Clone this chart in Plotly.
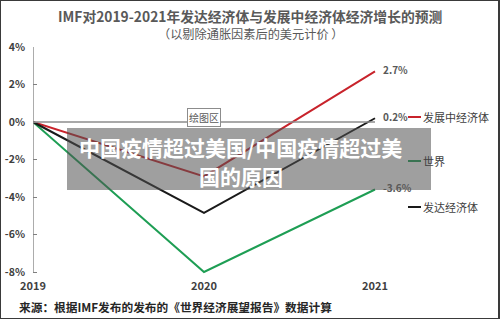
import plotly.graph_objects as go

years = [2019, 2020, 2021]
developing = [0, -2.9, 2.7]
world = [0, -8.0, -3.6]
developed = [0, -4.85, 0.2]
series_names = ["发展中经济体", "世界", "发达经济体"]
end_labels = ["2.7%", "-3.6%", "0.2%"]
y_ticks = [4, 2, 0, -2, -4, -6, -8]
y_ticktext = ["4%", "2%", "0%", "-2%", "-4%", "-6%", "-8%"]
x_ticktext = ["2019", "2020", "2021"]

W, H = 500, 319
FONT = "Noto Sans CJK SC"
colors = ["#C8232B", "#1E9E54", "#1A1A1A"]
series = [developing, world, developed]

fig = go.Figure()
for name, vals, col in zip(series_names, series, colors):
    fig.add_trace(go.Scatter(x=years, y=vals, mode="lines", name=name,
                             line=dict(color=col, width=2), showlegend=False))

def px_x(p):
    return p / W

def px_y(p):
    return 1 - p / H

# plot domain in pixels
x_left, x_right = 33, 475
y_top, y_bot = 47, 273.9
per_year = 171.0
x_end = years[0] + (x_right - x_left) / per_year

shapes = []
# y axis line
shapes.append(dict(type="line", xref="x", yref="y", x0=years[0], x1=years[0],
                   y0=min(y_ticks), y1=max(y_ticks), line=dict(color="#7F7F7F", width=1.3)))
# zero line
shapes.append(dict(type="line", xref="x", yref="y", x0=years[0], x1=years[-1],
                   y0=0, y1=0, line=dict(color="#8C8C8C", width=1.3)))

annotations = []
# end-of-line value labels
for vals, lab in zip(series, end_labels):
    annotations.append(dict(x=years[-1], y=vals[-1], xref="x", yref="y", text="<b>" + lab + "</b>",
                            showarrow=False, xanchor="left", xshift=6, yshift=2,
                            font=dict(family=FONT, size=10, color="#595959")))

# legend (custom)
legend_rows = [(series_names[0], colors[0], 117), (series_names[1], colors[1], 161), (series_names[2], colors[2], 207)]
for name, col, ypx in legend_rows:
    shapes.append(dict(type="line", xref="paper", yref="paper", x0=px_x(408), x1=px_x(421),
                       y0=px_y(ypx), y1=px_y(ypx), line=dict(color=col, width=2)))
    annotations.append(dict(x=px_x(421), y=px_y(ypx), xref="paper", yref="paper", text=name,
                            showarrow=False, xanchor="left", yanchor="middle",
                            font=dict(family=FONT, size=11, color="#404040")))

# title
annotations.append(dict(x=0.5, y=px_y(16), xref="paper", yref="paper",
                        text="<b>IMF对2019-2021年发达经济体与发展中经济体经济增长的预测</b>",
                        showarrow=False, xanchor="center", yanchor="middle",
                        font=dict(family=FONT, size=13.8, color="#595959")))
annotations.append(dict(x=px_x(251), y=px_y(34), xref="paper", yref="paper",
                        text="（以剔除通胀因素后的美元计价 ）",
                        showarrow=False, xanchor="center", yanchor="middle",
                        font=dict(family=FONT, size=12.2, color="#595959")))
# source
annotations.append(dict(x=px_x(17), y=px_y(306), xref="paper", yref="paper",
                        text="<b>来源：根据IMF发布的发布的《世界经济展望报告》数据计算</b>",
                        showarrow=False, xanchor="left", yanchor="middle",
                        font=dict(family=FONT, size=11.7, color="#262626")))
# 绘图区 tooltip
annotations.append(dict(x=px_x(204), y=px_y(117), xref="paper", yref="paper",
                        text="绘图区", showarrow=False, xanchor="center", yanchor="middle",
                        bgcolor="white", bordercolor="#8C8C8C", borderwidth=1, borderpad=1,
                        font=dict(family=FONT, size=10, color="#595959")))

# overlay box
shapes.append(dict(type="rect", xref="paper", yref="paper", x0=px_x(67), x1=px_x(431),
                   y0=px_y(190), y1=px_y(128), fillcolor="rgba(80,80,80,0.55)",
                   line=dict(width=0), layer="above"))
annotations.append(dict(x=px_x(240.5), y=px_y(147), xref="paper", yref="paper",
                        text="<b>中国疫情超过美国/中国疫情超过美</b>", showarrow=False,
                        xanchor="center", yanchor="middle",
                        font=dict(family=FONT, size=21, color="white")))
annotations.append(dict(x=px_x(240.5), y=px_y(176), xref="paper", yref="paper",
                        text="<b>国的原因</b>", showarrow=False,
                        xanchor="center", yanchor="middle",
                        font=dict(family=FONT, size=21, color="white")))

# outer frame
shapes.append(dict(type="rect", xref="paper", yref="paper", x0=0, x1=px_x(499), y0=0, y1=1,
                   line=dict(color="#3A3A3A", width=2), layer="above"))

fig.update_layout(
    template="none",
    width=W, height=H,
    margin=dict(l=0, r=0, t=0, b=0, pad=0, autoexpand=False),
    paper_bgcolor="white", plot_bgcolor="white",
    showlegend=False,
    shapes=shapes, annotations=annotations,
    xaxis=dict(domain=[px_x(x_left), px_x(x_right)], range=[years[0], x_end],
               tickvals=years, ticktext=["<b>" + t + "</b>" for t in x_ticktext],
               showgrid=False, zeroline=False, showline=False, ticks="",
               automargin=False, ticklabelstandoff=4,
               tickfont=dict(family=FONT, size=11, color="#404040")),
    yaxis=dict(domain=[1 - y_bot / H, 1 - y_top / H],
               range=[4 - (y_bot - y_top) / 18.75, 4],
               tickvals=y_ticks, ticktext=["<b>" + t + "</b>" for t in y_ticktext],
               showgrid=False, zeroline=False, showline=False,
               ticks="inside", ticklen=4, tickcolor="#7F7F7F", tickwidth=1.3,
               automargin=False, ticklabelstandoff=7,
               tickfont=dict(family=FONT, size=10.5, color="#404040")),
)

fig.write_html("out.html")
